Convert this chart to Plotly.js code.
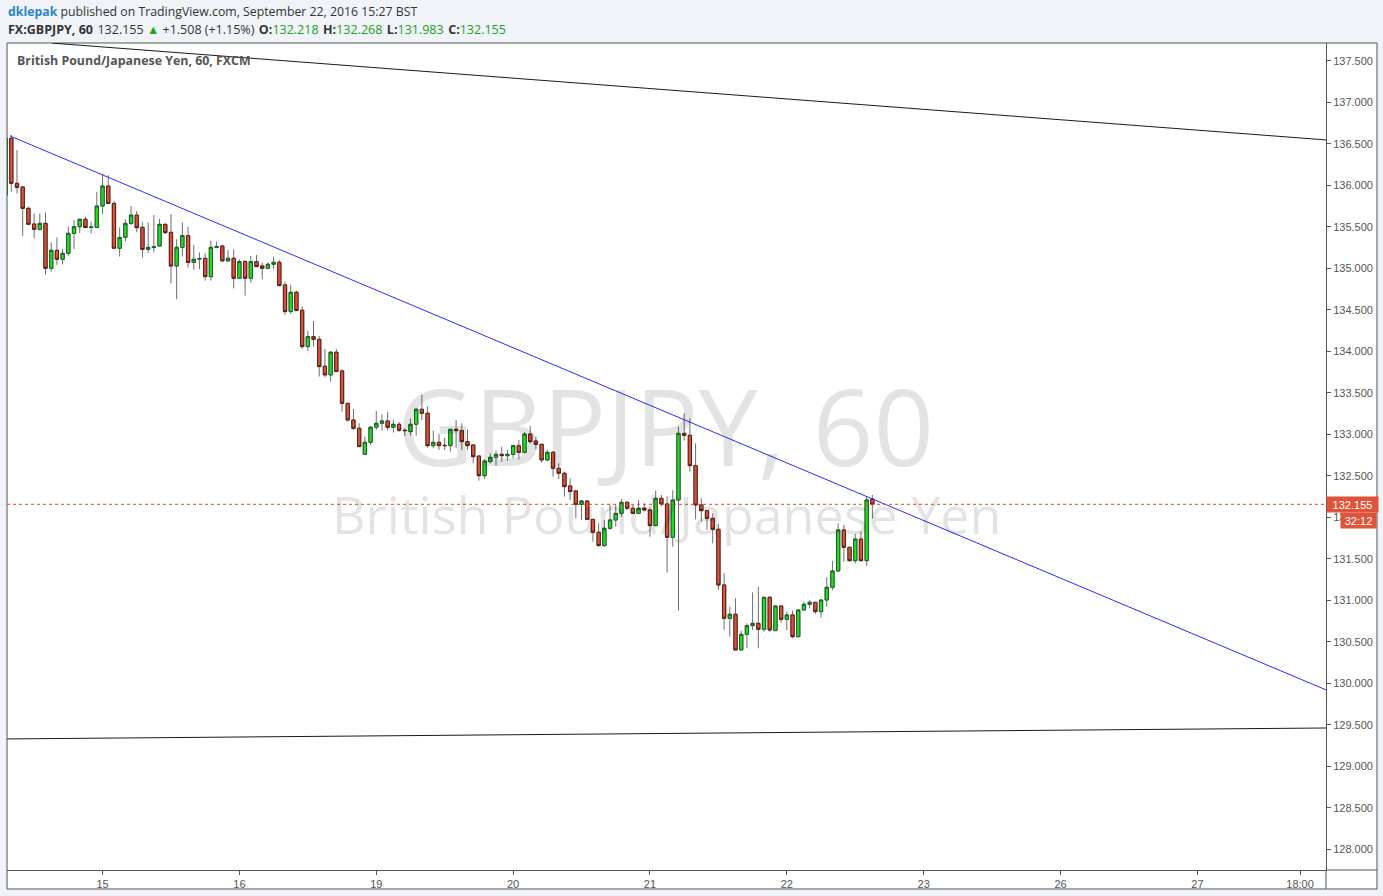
<!DOCTYPE html>
<html>
<head>
<meta charset="utf-8">
<script src="https://cdn.plot.ly/plotly-3.0.1.min.js"></script>
<style>
html,body{margin:0;padding:0;background:#f0f3f7;}
#chart{width:1383px;height:896px;}
</style>
</head>
<body>
<div id="chart"></div>
<script>
// ---- Data (GBPJPY, 60 min, FXCM) ----
const openP = [135.88,
136.565,136.022,135.978,135.721,135.532,135.468,135.54,134.998,135.215,135.107,
135.179,135.42,135.50,135.59,135.49,135.49,135.749,135.99,135.78,135.24,
135.372,135.54,135.64,135.492,135.227,135.25,135.267,135.528,135.432,135.026,
135.251,135.392,135.07,135.11,135.119,134.898,135.25,135.267,135.087,135.119,
134.878,135.079,134.878,135.079,135.027,134.999,135.047,135.071,134.798,134.477,
134.71,134.493,134.055,134.175,134.143,133.818,133.714,133.987,133.762,133.372,
133.171,133.071,132.757,132.902,133.083,133.131,133.159,133.083,133.119,133.047,
133.031,133.119,133.3,133.252,132.862,132.902,132.866,132.862,133.059,133.043,
132.91,132.87,132.737,132.5,132.669,132.721,132.757,132.741,132.757,132.862,
132.781,133.002,132.918,132.878,132.689,132.782,132.589,132.529,132.376,132.316,
132.155,132.195,131.974,131.818,131.657,131.866,131.966,132.046,132.179,132.107,
132.046,132.107,132.087,131.898,132.227,132.159,131.757,132.207,133.01,132.986,
132.621,132.147,132.079,131.986,131.854,131.183,130.782,130.83,130.4,130.589,
130.693,130.721,130.649,131.034,130.633,130.93,130.769,130.822,130.56,130.882,
130.95,130.974,130.862,131.002,131.155,131.352,131.846,131.637,131.476,131.737,
131.476,132.218];
const highP = [136.57,
136.605,136.424,135.99,135.74,135.66,135.66,135.673,135.31,135.37,135.23,
135.50,135.58,135.59,135.62,135.56,135.92,136.135,136.12,135.81,135.49,
135.589,135.749,135.689,135.552,135.55,135.64,135.593,135.54,135.653,135.348,
135.552,135.50,135.28,135.19,135.18,135.332,135.32,135.28,135.22,135.227,
135.107,135.099,135.147,135.159,135.067,135.067,135.139,135.099,134.838,134.798,
134.73,134.537,134.244,134.364,134.183,134.027,134.003,134.027,133.78,133.372,
133.304,133.131,132.97,133.099,133.28,133.239,133.268,133.171,133.147,133.071,
133.191,133.312,133.472,133.332,133.043,133.003,132.958,133.059,133.171,133.131,
133.059,132.87,132.737,132.697,132.769,132.802,132.85,132.81,132.87,132.93,
133.023,133.099,132.97,132.878,132.81,132.798,132.649,132.549,132.468,132.328,
132.207,132.195,131.974,131.926,131.966,132.147,132.147,132.219,132.187,132.147,
132.207,132.167,132.127,132.32,132.267,132.25,132.327,133.091,133.251,133.191,
132.89,132.227,132.079,132.046,131.918,131.324,130.922,131.022,130.633,130.721,
131.095,131.163,131.042,131.05,130.942,130.93,130.862,130.874,130.882,130.982,
131.002,130.974,131.002,131.275,131.472,131.926,131.906,131.637,131.797,131.825,
132.255,132.268];
const lowP = [135.85,
135.922,135.902,135.39,135.52,135.36,135.45,134.918,134.958,135.04,135.046,
135.15,135.23,135.42,135.49,135.42,135.49,135.65,135.78,135.24,135.14,
135.32,135.52,135.432,135.127,135.18,135.19,135.267,135.41,134.818,134.625,
135.139,135.01,134.98,134.99,134.85,134.85,135.24,135.087,135.08,134.757,
134.878,134.669,134.826,135.019,134.866,134.987,134.987,134.79,134.436,134.448,
134.489,134.027,134.003,134.055,133.694,133.686,133.633,133.754,133.27,133.151,
133.051,132.85,132.757,132.87,133.051,133.043,133.043,133.019,133.027,132.978,
132.982,132.982,133.171,132.838,132.83,132.81,132.81,132.79,132.83,132.81,
132.81,132.649,132.44,132.46,132.649,132.621,132.669,132.677,132.709,132.697,
132.77,132.89,132.818,132.657,132.677,132.488,132.46,132.247,132.207,131.986,
131.966,131.966,131.705,131.645,131.645,131.846,131.886,132.006,132.087,132.046,
132.038,132.067,131.765,131.898,132.127,131.332,131.645,130.874,132.922,132.549,
131.974,131.946,131.846,131.685,131.123,130.641,130.561,130.4,130.4,130.42,
130.641,130.42,130.62,130.62,130.633,130.729,130.641,130.54,130.552,130.874,
130.902,130.834,130.79,130.922,131.123,131.344,131.464,131.464,131.444,131.464,
131.412,131.983];
const closeP = [136.565,
136.022,135.974,135.721,135.528,135.468,135.54,134.998,135.215,135.107,135.179,
135.42,135.50,135.59,135.49,135.495,135.749,135.99,135.78,135.24,135.37,
135.54,135.64,135.488,135.227,135.251,135.26,135.528,135.428,135.026,135.251,
135.392,135.07,135.107,135.115,134.898,135.251,135.26,135.087,135.119,134.878,
135.079,134.878,135.079,135.019,134.999,135.047,135.071,134.79,134.477,134.71,
134.489,134.055,134.175,134.143,133.814,133.714,133.987,133.754,133.372,133.171,
133.071,132.85,132.902,133.083,133.131,133.159,133.083,133.119,133.047,133.043,
133.119,133.3,133.252,132.862,132.902,132.862,132.862,133.059,133.043,132.91,
132.862,132.729,132.5,132.677,132.721,132.757,132.741,132.757,132.862,132.781,
133.002,132.91,132.878,132.689,132.782,132.589,132.529,132.368,132.308,132.155,
132.195,131.974,131.818,131.657,131.866,131.966,132.046,132.179,132.107,132.046,
132.107,132.087,131.898,132.227,132.159,131.757,132.207,133.010,132.986,132.621,
132.147,132.079,131.986,131.854,131.183,130.782,130.83,130.4,130.589,130.693,
130.721,130.649,131.034,130.641,130.93,130.769,130.822,130.56,130.882,130.95,
130.974,130.862,131.002,131.155,131.352,131.846,131.637,131.476,131.737,131.476,
132.207,132.155];

// x-axis: hourly bar index (weekend removed), day labels
const dayTickIndex = [16, 40, 64, 88, 112, 136, 160, 184, 208, 226];
const dayTickText  = ['15','16','19','20','21','22','23','26','27','18:00'];

// drawn trendlines (bar index, price)
const upperLineX = [7.1, 230.6],    upperLineY = [137.712, 136.545];
const blueLineX  = [-0.23, 230.6], blueLineY  = [136.593, 129.918];
const lowerLineX = [-0.754, 230.6], lowerLineY = [129.328, 129.460];

const yTickVals = [128,128.5,129,129.5,130,130.5,131,131.5,132,132.5,133,133.5,134,134.5,135,135.5,136,136.5,137,137.5];

// ---- build ----
const xIdx = openP.map((_, i) => i - 1);
const lastPrice = closeP[closeP.length - 1];
const bodyHigh = openP.map((o, i) => Math.max(o, closeP[i]));
const bodyLow  = openP.map((o, i) => Math.min(o, closeP[i]));
const X_RANGE = [-0.754, 230.55];

const W = 1383, H = 896, ML = 7, MR = 57, MT = 43, MB = 26;
const PW = W - ML - MR, PH = H - MT - MB;
const px = v => (v - ML) / PW;
const py = v => (H - MB - v) / PH;

const traces = [
  { // wicks
    type: 'candlestick', x: xIdx, open: openP, high: highP, low: lowP, close: closeP,
    increasing: {line: {color: '#6e6e6e', width: 1}, fillcolor: '#6e6e6e'},
    decreasing: {line: {color: '#6e6e6e', width: 1}, fillcolor: '#6e6e6e'},
    hoverinfo: 'skip', showlegend: false
  },
  { // bodies
    type: 'candlestick', x: xIdx, open: openP, high: bodyHigh, low: bodyLow, close: closeP,
    increasing: {line: {color: '#1d5e2a', width: 1}, fillcolor: '#1fe01f'},
    decreasing: {line: {color: '#5e1e12', width: 1}, fillcolor: '#d5533e'},
    hoverinfo: 'skip', showlegend: false
  },
  {type: 'scatter', mode: 'lines', x: upperLineX, y: upperLineY,
   line: {color: '#1a1a1a', width: 1}, hoverinfo: 'skip', showlegend: false},
  {type: 'scatter', mode: 'lines', x: blueLineX, y: blueLineY,
   line: {color: '#2b2bff', width: 1}, hoverinfo: 'skip', showlegend: false},
  {type: 'scatter', mode: 'lines', x: lowerLineX, y: lowerLineY,
   line: {color: '#1a1a1a', width: 1}, hoverinfo: 'skip', showlegend: false},
  {type: 'scatter', mode: 'lines', x: X_RANGE, y: [lastPrice, lastPrice],
   line: {color: '#e8402a', width: 1, dash: 'dot'}, hoverinfo: 'skip', showlegend: false}
];

const green = '#22a022';
const sp = ' \u200A';
const layout = {
  width: W, height: H,
  margin: {l: ML, r: MR, t: MT, b: MB, pad: 0},
  paper_bgcolor: '#f0f3f7', plot_bgcolor: '#ffffff',
  showlegend: false, boxgap: 0.18,
  font: {family: '"Liberation Sans", Arial, sans-serif', size: 11, color: '#4a4a4a'},
  xaxis: {
    range: X_RANGE, type: 'linear', rangeslider: {visible: false},
    showgrid: false, zeroline: false, showline: true, linecolor: '#555', linewidth: 1,
    ticks: 'outside', ticklen: 4, tickcolor: '#555',
    tickmode: 'array', tickvals: dayTickIndex, ticktext: dayTickText,
    tickfont: {size: 11, color: '#555'}, fixedrange: true
  },
  yaxis: {
    range: [127.749, 137.713], side: 'right',
    showgrid: false, zeroline: false, showline: true, linecolor: '#555', linewidth: 1,
    ticks: 'outside', ticklen: 4, tickcolor: '#555',
    tickmode: 'array', tickvals: yTickVals, ticktext: yTickVals.map(v => v.toFixed(3)),
    tickfont: {size: 11, color: '#555'}, fixedrange: true
  },
  shapes: [
    {type: 'rect', xref: 'paper', yref: 'paper', x0: px(7), x1: px(1377), y0: py(889), y1: py(43),
     fillcolor: '#ffffff', line: {color: '#555', width: 1}, layer: 'below'},
    {type: 'line', xref: 'paper', yref: 'paper', x0: px(1326), x1: px(1326), y0: py(889), y1: py(870),
     line: {color: '#555', width: 1}},
    {type: 'line', xref: 'paper', yref: 'paper', x0: px(1326), x1: px(1377), y0: py(870), y1: py(870),
     line: {color: '#555', width: 1}}
  ],
  annotations: [
    {xref: 'paper', yref: 'paper', x: px(665), y: py(425), xanchor: 'center', yanchor: 'middle',
     text: 'GBPJPY, 60', showarrow: false,
     font: {family: '"Open Sans", sans-serif', size: 106, color: 'rgba(0,0,0,0.11)'}},
    {xref: 'paper', yref: 'paper', x: px(666), y: py(513), xanchor: 'center', yanchor: 'middle',
     text: 'British Pound/Japanese Yen', showarrow: false,
     font: {family: '"Open Sans", sans-serif', size: 52, color: 'rgba(0,0,0,0.11)'}},
    {xref: 'paper', yref: 'paper', x: px(6), y: py(11), xanchor: 'left', yanchor: 'middle',
     text: '<b><span style="color:#2a86c5">dklepak</span></b> published on TradingView.com, September 22, 2016 15:27 BST',
     showarrow: false, font: {family: '"Open Sans", sans-serif', size: 12.3, color: '#333'}},
    {xref: 'paper', yref: 'paper', x: px(6), y: py(29), xanchor: 'left', yanchor: 'middle',
     text: '<b>FX:GBPJPY, 60</b>' + sp + '132.155 <span style="color:#1aa81a">▲</span> +1.508 (+1.15%)' + sp +
           '<b>O:</b><span style="color:' + green + '">132.218</span>' + sp +
           '<b>H:</b><span style="color:' + green + '">132.268</span>' + sp +
           '<b>L:</b><span style="color:' + green + '">131.983</span>' + sp +
           '<b>C:</b><span style="color:' + green + '">132.155</span>',
     showarrow: false, font: {family: '"Open Sans", sans-serif', size: 12.5, color: '#333'}},
    {xref: 'paper', yref: 'paper', x: px(15), y: py(60), xanchor: 'left', yanchor: 'middle',
     text: '<b>British Pound/Japanese Yen, 60, FXCM</b>', showarrow: false,
     font: {family: '"Open Sans", sans-serif', size: 12.4, color: '#555'}},
    {xref: 'paper', yref: 'y', x: 1, y: lastPrice, xanchor: 'left', yanchor: 'middle',
     text: lastPrice.toFixed(3), showarrow: false, bgcolor: '#de5339',
     width: 49, height: 13, borderpad: 1,
     font: {family: '"Liberation Sans", Arial, sans-serif', size: 11, color: '#ffffff'}},
    {xref: 'paper', yref: 'y', x: px(1377), y: lastPrice, yshift: -16, xanchor: 'right', yanchor: 'middle',
     text: '32:12', showarrow: false, bgcolor: '#de5339',
     width: 33, height: 13, borderpad: 1,
     font: {family: '"Liberation Sans", Arial, sans-serif', size: 11, color: '#ffffff'}}
  ]
};

Plotly.newPlot('chart', traces, layout, {staticPlot: true, displayModeBar: false});
</script>
</body>
</html>
